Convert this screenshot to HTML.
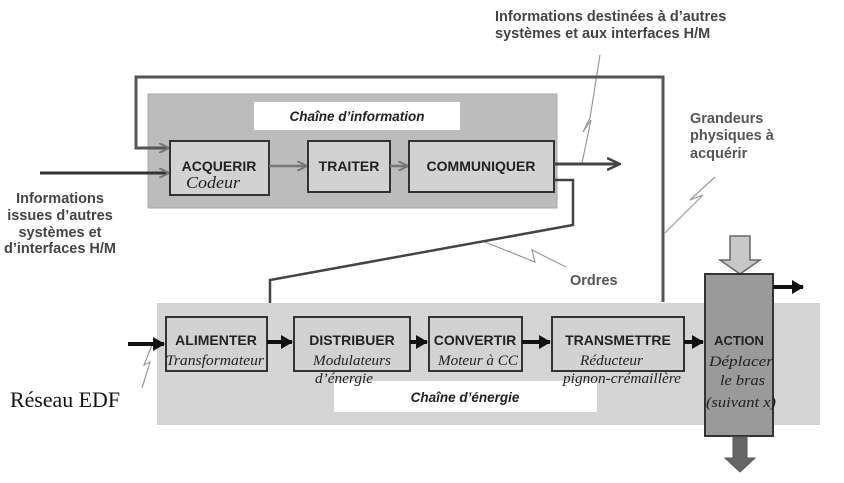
<!DOCTYPE html>
<html><head><meta charset="utf-8"><style>
html,body{margin:0;padding:0;background:#fff;}
svg{display:block;}
.b{font-family:"Liberation Sans",sans-serif;font-weight:bold;}
.s{font-family:"Liberation Serif",serif;font-style:italic;}
</style></head><body>
<svg width="844" height="483" viewBox="0 0 844 483" xmlns="http://www.w3.org/2000/svg">
<defs>
<marker id="ag" markerWidth="10" markerHeight="10" refX="9" refY="5" orient="auto" markerUnits="userSpaceOnUse"><path d="M0,0 L10,5 L0,10" fill="none" stroke="#777" stroke-width="2"/></marker>
<marker id="ad" markerWidth="14" markerHeight="14" refX="13" refY="7" orient="auto" markerUnits="userSpaceOnUse"><path d="M0,1 L13,7 L0,13" fill="none" stroke="#444" stroke-width="2.5"/></marker>
<marker id="ab" markerWidth="12" markerHeight="14" refX="11" refY="7" orient="auto" markerUnits="userSpaceOnUse"><path d="M0,0 L12,7 L0,14Z" fill="#111"/></marker>
</defs>
<text class="b" x="495" y="21" font-size="14.5" fill="#444">Informations destinées à d’autres</text>
<text class="b" x="495" y="38" font-size="14.5" fill="#444">systèmes et aux interfaces H/M</text>
<text class="b" x="690" y="123" font-size="14.5" fill="#555">Grandeurs</text>
<text class="b" x="690" y="140" font-size="14.5" fill="#555">physiques à</text>
<text class="b" x="690" y="158" font-size="14.5" fill="#555">acquérir</text>
<text class="b" x="60" y="203" font-size="14.5" fill="#444" text-anchor="middle">Informations</text>
<text class="b" x="60" y="220" font-size="14.5" fill="#444" text-anchor="middle">issues d’autres</text>
<text class="b" x="60" y="237" font-size="14.5" fill="#444" text-anchor="middle">systèmes et</text>
<text class="b" x="60" y="253" font-size="14.5" fill="#444" text-anchor="middle">d’interfaces H/M</text>
<text class="b" x="570" y="285" font-size="14.5" fill="#555">Ordres</text>
<polyline points="600,55 590,118 583,132 591,120 582,163" fill="none" stroke="#999" stroke-width="1.2"/>
<polyline points="715,177 690,200 703,195 665,233" fill="none" stroke="#999" stroke-width="1.2"/>
<polyline points="485,242 535,262 532,250 566,267" fill="none" stroke="#999" stroke-width="1.2"/>
<polyline points="152,345 144,365 150,362 142,388" fill="none" stroke="#999" stroke-width="1.2"/>
<rect x="148" y="94" width="409" height="114" fill="#bcbcbc" stroke="#aaa"/>
<rect x="254" y="102" width="206" height="28" fill="#fff"/>
<text x="357" y="121" font-size="13.5" text-anchor="middle" font-family="Liberation Sans,sans-serif" font-weight="bold" font-style="italic" fill="#222">Chaîne d’information</text>
<polyline points="663,302 663,77 136,77 136,148 168,148" fill="none" stroke="#555" stroke-width="3" marker-end="url(#ag)"/>
<line x1="40" y1="173" x2="168" y2="173" stroke="#333" stroke-width="3" marker-end="url(#ag)"/>
<rect x="170" y="141" width="99" height="54" fill="#d2d2d2" stroke="#333" stroke-width="2"/>
<text class="b" x="219" y="171" font-size="14" text-anchor="middle" fill="#222">ACQUERIR</text>
<text class="s" x="186" y="188" font-size="17" fill="#222" textLength="54" lengthAdjust="spacingAndGlyphs">Codeur</text>
<line x1="269" y1="166" x2="306" y2="166" stroke="#777" stroke-width="2.5" marker-end="url(#ag)"/>
<rect x="308" y="141" width="82" height="51" fill="#d2d2d2" stroke="#333" stroke-width="2"/>
<text class="b" x="349" y="171" font-size="14" text-anchor="middle" fill="#222">TRAITER</text>
<line x1="390" y1="166" x2="407" y2="166" stroke="#777" stroke-width="2.5" marker-end="url(#ag)"/>
<rect x="409" y="141" width="145" height="51" fill="#d2d2d2" stroke="#333" stroke-width="2"/>
<text class="b" x="481" y="171" font-size="14" text-anchor="middle" fill="#222">COMMUNIQUER</text>
<line x1="554" y1="164" x2="620" y2="164" stroke="#444" stroke-width="3" marker-end="url(#ad)"/>
<polyline points="554,180 573,180 573,225 270,280 270,320 290,324" fill="none" stroke="#444" stroke-width="2.5"/>
<polyline points="271,320 290,324" fill="none" stroke="#888" stroke-width="3" marker-end="url(#ag)"/>
<rect x="157" y="303" width="663" height="122" fill="#d4d4d4"/>
<rect x="334" y="381" width="263" height="31" fill="#fff"/>
<text x="465" y="402" font-size="13.5" text-anchor="middle" font-family="Liberation Sans,sans-serif" font-weight="bold" font-style="italic" fill="#222">Chaîne d’énergie</text>
<line x1="128" y1="344" x2="164" y2="344" stroke="#111" stroke-width="4" marker-end="url(#ab)"/>
<rect x="166" y="317" width="101" height="54" fill="#d2d2d2" stroke="#333" stroke-width="2"/>
<text class="b" x="216" y="345" font-size="14" text-anchor="middle" fill="#222">ALIMENTER</text>
<text class="s" x="166" y="365" font-size="15" fill="#222" textLength="98" lengthAdjust="spacingAndGlyphs">Transformateur</text>
<line x1="267" y1="342" x2="292" y2="342" stroke="#111" stroke-width="4" marker-end="url(#ab)"/>
<rect x="294" y="317" width="116" height="54" fill="#d2d2d2" stroke="#333" stroke-width="2"/>
<text class="b" x="352" y="345" font-size="14" text-anchor="middle" fill="#222">DISTRIBUER</text>
<text class="s" x="313" y="365" font-size="15" fill="#222" textLength="78" lengthAdjust="spacingAndGlyphs">Modulateurs</text>
<text class="s" x="315" y="383" font-size="15" fill="#222" textLength="58" lengthAdjust="spacingAndGlyphs">d’énergie</text>
<line x1="410" y1="342" x2="427" y2="342" stroke="#111" stroke-width="4" marker-end="url(#ab)"/>
<rect x="429" y="317" width="93" height="54" fill="#d2d2d2" stroke="#333" stroke-width="2"/>
<text class="b" x="475" y="345" font-size="14" text-anchor="middle" fill="#222">CONVERTIR</text>
<text class="s" x="438" y="365" font-size="15" fill="#222" textLength="80" lengthAdjust="spacingAndGlyphs">Moteur à CC</text>
<line x1="522" y1="342" x2="550" y2="342" stroke="#111" stroke-width="4" marker-end="url(#ab)"/>
<rect x="552" y="317" width="132" height="54" fill="#d2d2d2" stroke="#333" stroke-width="2"/>
<text class="b" x="618" y="345" font-size="14" text-anchor="middle" fill="#222">TRANSMETTRE</text>
<text class="s" x="580" y="365" font-size="15" fill="#222" textLength="63" lengthAdjust="spacingAndGlyphs">Réducteur</text>
<text class="s" x="563" y="383" font-size="15" fill="#222" textLength="118" lengthAdjust="spacingAndGlyphs">pignon-crémaillère</text>
<line x1="684" y1="342" x2="703" y2="342" stroke="#111" stroke-width="4" marker-end="url(#ab)"/>
<polygon points="730,236 750,236 750,260 760,260 740,274 720,260 730,260" fill="#c8c8c8" stroke="#666" stroke-width="1.5"/>
<rect x="705" y="274" width="68" height="162" fill="#9a9a9a" stroke="#333" stroke-width="2"/>
<line x1="773" y1="287" x2="803" y2="287" stroke="#111" stroke-width="4" marker-end="url(#ab)"/>
<polygon points="733,437 747,437 747,458 755,458 740,472 725,458 733,458" fill="#666" stroke="#555"/>
<text class="b" x="739" y="345" font-size="13" text-anchor="middle" fill="#222">ACTION</text>
<text class="s" x="709" y="366" font-size="15" fill="#222" textLength="64" lengthAdjust="spacingAndGlyphs">Déplacer</text>
<text class="s" x="720" y="385" font-size="15" fill="#222" textLength="45" lengthAdjust="spacingAndGlyphs">le bras</text>
<text class="s" x="706" y="407" font-size="15" fill="#222" textLength="70" lengthAdjust="spacingAndGlyphs">(suivant x)</text>
<text x="10" y="407" font-size="22" font-family="Liberation Serif,serif" fill="#111" textLength="110" lengthAdjust="spacingAndGlyphs">Réseau EDF</text>
</svg>
</body></html>
